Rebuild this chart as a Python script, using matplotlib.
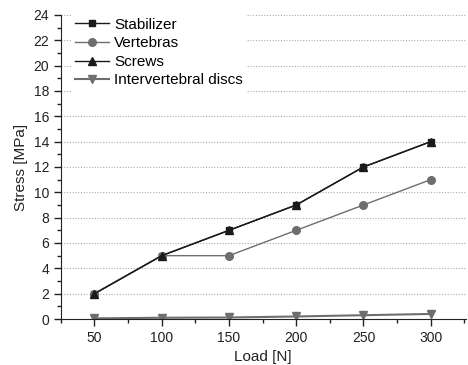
"""Stress vs load for spine fixation components."""
import matplotlib
matplotlib.use("Agg")
import matplotlib.pyplot as plt
from matplotlib.ticker import MultipleLocator

plt.rcParams["font.family"] = ["Liberation Sans", "DejaVu Sans"]

load_n = [50, 100, 150, 200, 250, 300]
stabilizer = [2, 5, 7, 9, 12, 14]
vertebras = [2, 5, 5, 7, 9, 11]
screws = [2, 5, 7, 9, 12, 14]
discs = [0.05, 0.1, 0.12, 0.2, 0.3, 0.4]

fig = plt.figure(figsize=(4.68, 3.65), dpi=100)
ax = fig.add_axes([0.130, 0.126, 0.865, 0.833])

ax.plot(load_n, stabilizer, color="#1a1a1a", marker="s", markersize=5,
        linewidth=1.0, label="Stabilizer")
ax.plot(load_n, vertebras, color="#6e6e6e", marker="o", markersize=5.5,
        linewidth=1.0, label="Vertebras")
ax.plot(load_n, screws, color="#1a1a1a", marker="^", markersize=6,
        linewidth=1.0, label="Screws")
ax.plot(load_n, discs, color="#6e6e6e", marker="v", markersize=6,
        linewidth=1.5, label="Intervertebral discs")

ax.set_xlim(25, 326)
ax.set_ylim(0, 24)
ax.set_xticks(load_n)
ax.xaxis.set_minor_locator(MultipleLocator(25))
ax.yaxis.set_major_locator(MultipleLocator(2))
ax.yaxis.set_minor_locator(MultipleLocator(1))
ax.tick_params(which="major", direction="out", length=5, width=1,
               labelsize=10, colors="#222222")
ax.tick_params(which="minor", direction="out", length=3, width=1,
               colors="#222222")
for side in ("top", "right"):
    ax.spines[side].set_visible(False)
for side in ("left", "bottom"):
    ax.spines[side].set_color("#222222")
ax.grid(True, axis="y", linestyle=(0, (1, 1.5)), color="#aaaaaa",
        linewidth=0.8)
ax.set_axisbelow(True)

ax.set_xlabel("Load [N]", fontsize=11, color="#222222")
ax.set_ylabel("Stress [MPa]", fontsize=11, color="#222222", labelpad=4)
# legend sits on a white box without border, hiding the grid behind it
leg = ax.legend(loc="upper left", frameon=True, fontsize=11, handlelength=2.2,
                handletextpad=0.35, labelspacing=0.3, borderaxespad=0.0,
                borderpad=0.3, fancybox=False, framealpha=1.0,
                bbox_to_anchor=(0.024, 1.006))
leg.get_frame().set_edgecolor("none")
leg.get_frame().set_facecolor("white")

fig.savefig("out.png", dpi=100)
plt.close(fig)
